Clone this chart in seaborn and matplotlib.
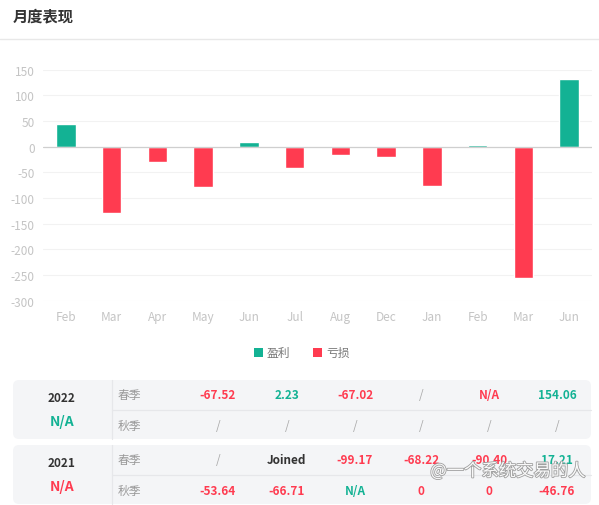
import numpy as np
import pandas as pd
import matplotlib
matplotlib.use("Agg")
import matplotlib.pyplot as plt
import seaborn as sns
from matplotlib.patches import FancyBboxPatch, Rectangle
import matplotlib.patheffects as pe

# ---------------- data ----------------
months = ["Feb", "Mar", "Apr", "May", "Jun", "Jul", "Aug", "Dec", "Jan", "Feb", "Mar", "Jun"]
returns = [44, -129, -29, -78, 10, -41, -17, -21, -77, 4, -256, 132]
y_ticks = [150, 100, 50, 0, -50, -100, -150, -200, -250, -300]

legend_labels = ["盈利", "亏损"]
title = "月度表现"

years = ["2022", "2021"]
year_totals = ["N/A", "N/A"]
season_labels = ["春季", "秋季"]
table_2022_spring = ["-67.52", "2.23", "-67.02", "/", "N/A", "154.06"]
table_2022_autumn = ["/", "/", "/", "/", "/", "/"]
table_2021_spring = ["/", "Joined", "-99.17", "-68.22", "-90.40", "17.21"]
table_2021_autumn = ["-53.64", "-66.71", "N/A", "0", "0", "-46.76"]
# tone of each cell: g = gain (green), l = loss (red), n = neutral, j = joined
tone_2022_spring = ["l", "g", "l", "n", "l", "g"]
tone_2022_autumn = ["n"] * 6
tone_2021_spring = ["n", "j", "l", "l", "l", "g"]
tone_2021_autumn = ["l", "l", "g", "l", "l", "l"]
year_tones = ["g", "l"]
watermark = "@一个系统交易的人"

# ---------------- style ----------------
GREEN = "#13b294"
RED = "#ff3b50"
sns.set_theme(style="white")
plt.rcParams["font.family"] = ["Noto Sans CJK SC", "DejaVu Sans"]
plt.rcParams["axes.unicode_minus"] = False

W, H = 599, 506
fig = plt.figure(figsize=(W / 100, H / 100), dpi=100)
fig.patch.set_facecolor("white")

def fx(px):
    return px / W

def fy(py):
    return 1 - py / H

# ---------------- bar chart ----------------
top_px, bot_px = 70.7, 301.7
left_px, right_px = 43, 592
ax = fig.add_axes([fx(left_px), fy(bot_px), fx(right_px - left_px), (bot_px - top_px) / H])
df = pd.DataFrame({
    "idx": list(range(len(months))),
    "month": months,
    "value": returns,
    "kind": [legend_labels[0] if v >= 0 else legend_labels[1] for v in returns],
})
sns.barplot(data=df, x="idx", y="value", hue="kind",
            palette={legend_labels[0]: GREEN, legend_labels[1]: RED},
            dodge=False, width=0.43, legend=False, ax=ax, saturation=1)
ax.set_xlim(-0.5, len(months) - 0.5)
ax.set_ylim(-300, 150)
ax.set_yticks(y_ticks)
ax.set_yticklabels([str(t) for t in y_ticks])
ax.set_xticks(range(len(months)))
ax.set_xticklabels(months)
ax.set_xlabel("")
ax.set_ylabel("")
for s in ax.spines.values():
    s.set_visible(False)
for t in y_ticks:
    if t != 0:
        ax.axhline(t, color="#f2f2f2", lw=0.8, zorder=0)
ax.axhline(0, color="#cfcfcf", lw=0.9, zorder=3)
ax.tick_params(axis="both", length=0, labelsize=8.5, labelcolor="#c4c4c4")
ax.tick_params(axis="y", pad=6)
ax.tick_params(axis="x", pad=7)
ax.set_facecolor("none")

# ---------------- overlay for other elements ----------------
ov = fig.add_axes([0, 0, 1, 1], zorder=5)
ov.set_xlim(0, W)
ov.set_ylim(H, 0)
ov.axis("off")
ov.patch.set_alpha(0)

ov.text(13, 16, title, fontsize=11, fontweight="bold", color="#333333", va="center", ha="left")
ov.plot([0, W], [40, 40], color="#e8e8e8", lw=1)

# legend
for i, (lab, col) in enumerate(zip(legend_labels, [GREEN, RED])):
    x0 = 254 + i * 59
    ov.add_patch(Rectangle((x0, 348.5), 9, 9, color=col, lw=0))
    ov.text(x0 + 13, 353, lab, fontsize=8.5, color="#777777", va="center", ha="left")

# table
col_x = [218, 287, 355, 421, 489, 557]
rows = [
    (table_2022_spring, tone_2022_spring, table_2022_autumn, tone_2022_autumn),
    (table_2021_spring, tone_2021_spring, table_2021_autumn, tone_2021_autumn),
]
box_tops = [381, 446]
box_h = 59
tone_color = {"g": GREEN, "l": RED, "n": "#aaaaaa", "j": "#333333"}
for b, (top, year, ytot, ytone, row) in enumerate(zip(box_tops, years, year_totals, year_tones, rows)):
    ov.add_patch(FancyBboxPatch((13, top), 578, box_h,
                                boxstyle="round,pad=0,rounding_size=6",
                                facecolor="#f4f5f7", edgecolor="none"))
    ov.plot([112, 112], [top, top + box_h], color="#e6e7ea", lw=0.9)
    ov.plot([112, 591], [top + 30, top + 30], color="#e6e7ea", lw=0.9)
    ov.text(62, top + 18, year, fontsize=8.5, fontweight="bold", color="#333333", ha="center", va="center")
    ov.text(62, top + 41, ytot, fontsize=10, fontweight="bold", color=tone_color[ytone], ha="center", va="center")
    vals_s, tones_s, vals_a, tones_a = row
    for r, (vals, tones) in enumerate([(vals_s, tones_s), (vals_a, tones_a)]):
        yy = top + 15 + r * 30.5
        ov.text(118, yy, season_labels[r], fontsize=8.5, color="#999999", ha="left", va="center")
        for cx, v, t in zip(col_x, vals, tones):
            style = "italic" if v == "/" else "normal"
            ov.text(cx, yy, v, fontsize=8.5, fontweight="bold" if v != "/" else "normal",
                    style=style, color=tone_color[t], ha="center", va="center")

# watermark
ov.text(508, 472, watermark, fontsize=12.5, color="white", ha="center", va="center", alpha=0.95,
        path_effects=[pe.withStroke(linewidth=1.2, foreground="#9a9a9a")])

fig.savefig("out.png", dpi=100)
